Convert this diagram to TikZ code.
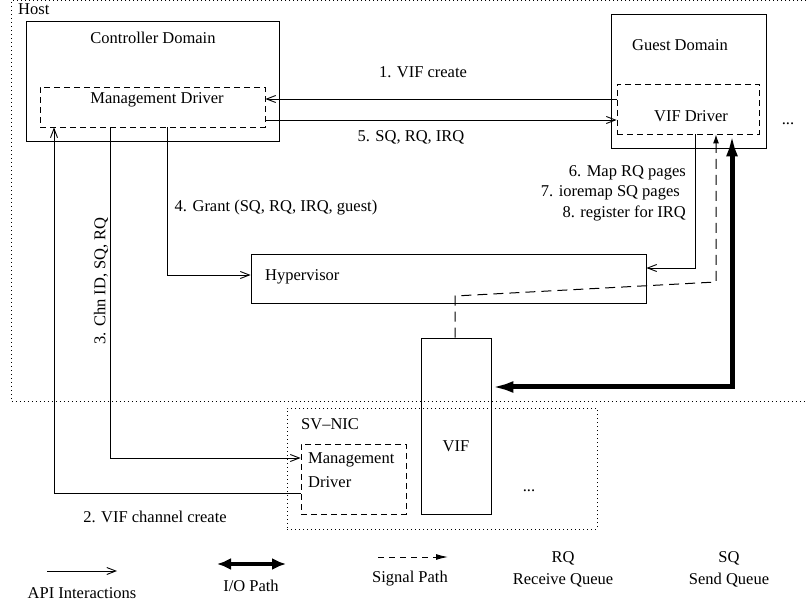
\documentclass[tikz,border=0pt]{standalone}
\usepackage{fontspec}
\setmainfont{Liberation Serif}
\usetikzlibrary{arrows.meta}
\begin{document}
\begin{tikzpicture}[x=1pt,y=-1pt,
  every node/.style={font=\fontsize{16.5}{19}\selectfont, inner sep=0pt},
  solidbox/.style={draw, line width=0.9pt, rectangle, inner sep=0pt},
  dashbox/.style={draw, line width=0.9pt, dash pattern=on 6pt off 4pt, rectangle, inner sep=0pt},
  dotbox/.style={draw, line width=0.9pt, dash pattern=on 1pt off 3pt, rectangle, inner sep=0pt},
  api/.style={line width=0.9pt, -{Straight Barb[length=9pt,width=7pt]}},
  iopath/.style={line width=5pt, {Latex[length=22pt,width=12pt]}-{Latex[length=22pt,width=12pt]}},
  sigpath/.style={line width=1pt, dash pattern=on 10pt off 6pt, -{Latex[length=9pt,width=6pt]}}
]
\useasboundingbox (0,0) rectangle (807,604);
% Host region
\draw[line width=0.9pt, dash pattern=on 1pt off 3pt] (830,0.8) -- (11,0.8) -- (11,401) -- (830,401);
\node[anchor=west] (host) at (18,9) {Host};

% boxes
\node[solidbox, minimum width=253pt, minimum height=120pt] (ctrl) at (152.5,81) {};
\node (ctrlt) at (153,38) {Controller Domain};
\node[dashbox, minimum width=225pt, minimum height=40pt] (mgmt) at (152.5,107) {};
\node (mgmtt) at (157,100) {Management Driver};

\node[solidbox, minimum width=155pt, minimum height=134pt] (guest) at (688.5,81) {};
\node (guestt) at (680,45) {Guest Domain};
\node[dashbox, minimum width=142pt, minimum height=50pt] (vifd) at (688,109) {};
\node (vifdt) at (691,116) {VIF Driver};
\node (gdots) at (788,124) {...};

\node[solidbox, minimum width=395pt, minimum height=49pt] (hyp) at (448.5,278.5) {};
\node[anchor=west] (hypt) at (265,277) {Hypervisor};

\node[dotbox, minimum width=310pt, minimum height=121pt] (svnic) at (442,468.5) {};
\node[anchor=west] (svnict) at (301,424) {SV–NIC};
\node[dashbox, minimum width=105pt, minimum height=70pt] (nmgmt) at (353.5,479) {};
\node[anchor=west] (nmgmt1) at (308,460) {Management};
\node[anchor=west] (nmgmt2) at (308,482) {Driver};
\node[solidbox, minimum width=70pt, minimum height=176pt] (vif) at (456,426) {};
\node (vift) at (456,446) {VIF};
\node (ndots) at (529,491) {...};

% connectors
\draw[api] (vifd.west |- 0,99) -- (mgmt.east |- 0,99);
\node (l1) at (423,72) {1. VIF create};
\draw[api] (mgmt.east |- 0,120) -- (vifd.west |- 0,120);
\node (l5) at (411,137) {5. SQ, RQ, IRQ};

\draw[api] (mgmt.south -| 167,0) |- (hyp.west |- 0,275);
\node (l4) at (276,208) {4. Grant (SQ, RQ, IRQ, guest)};

\draw[api] (mgmt.south -| 110,0) |- (nmgmt.west |- 0,458);
\node[rotate=90] (l3) at (101,281) {3. Chn ID, SQ, RQ};

\draw[api] (nmgmt.west |- 0,493) -| (mgmt.south -| 54,0);
\node (l2) at (155,517) {2. VIF channel create};

\draw[api] (vifd.south -| 695,0) |- (hyp.east |- 0,268);
\node[anchor=east] (l6) at (686,173) {6. Map RQ pages};
\node[anchor=east] (l7) at (680,193) {7. ioremap SQ pages};
\node[anchor=east] (l8) at (686,213) {8. register for IRQ};

\coordinate (s1) at (455,296);
\coordinate (s2) at (716,282);
\draw[sigpath] (vif.north -| 455,0) -- (s1) -- (s2) -- (vifd.south -| 716,0);

\coordinate (io1) at (732,387);
\draw[iopath] (vifd.south -| 732,0) |- (vif.east |- io1);

% legend
\coordinate (la1) at (47,571); \coordinate (la2) at (117,571);
\draw[api] (la1) -- (la2);
\node (lat) at (82,593) {API Interactions};
\coordinate (li1) at (217,564); \coordinate (li2) at (286,564);
\draw[line width=4pt, {Latex[length=14pt,width=12pt]}-{Latex[length=14pt,width=12pt]}] (li1) -- (li2);
\node (lit) at (251,586) {I/O Path};
\coordinate (ls1) at (378,557); \coordinate (ls2) at (448,557);
\draw[line width=1pt, dash pattern=on 6pt off 5pt, -{Latex[length=12pt,width=6pt]}] (ls1) -- (ls2);
\node (lst) at (410,579) {Signal Path};
\node (rq) at (563,558) {RQ};
\node (rqt) at (563,580) {Receive Queue};
\node (sq) at (729,558) {SQ};
\node (sqt) at (729,580) {Send Queue};
\end{tikzpicture}
\end{document}
